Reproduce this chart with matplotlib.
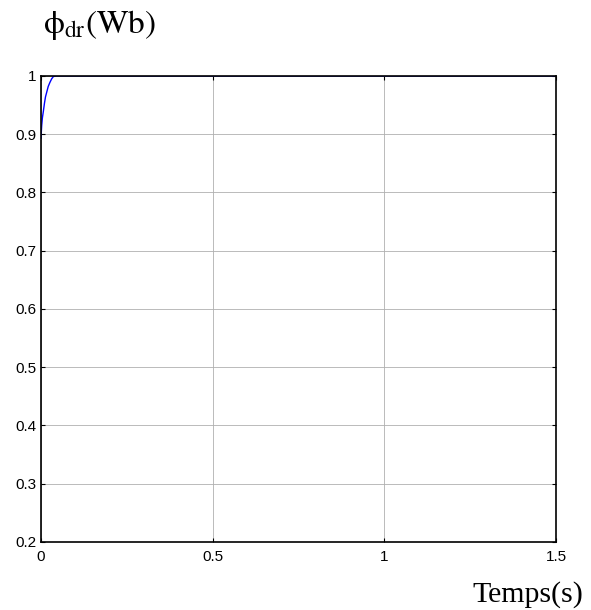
import numpy as np
import matplotlib.pyplot as plt

# flux response
t = [0.0, 0.001, 0.002, 0.004, 0.007, 0.010, 0.013, 0.017, 0.021, 0.026, 0.031, 0.036, 0.045, 0.06, 0.1, 0.5, 1.0, 1.5]
phi_dr = [0.893, 0.905, 0.915, 0.928, 0.940, 0.953, 0.964, 0.973, 0.982, 0.989, 0.995, 0.999, 1.0, 1.0, 1.0, 1.0, 1.0, 1.0]

xticks = [0, 0.5, 1, 1.5]
xtick_labels = ['0', '0.5', '1', '1.5']
yticks = [0.2, 0.3, 0.4, 0.5, 0.6, 0.7, 0.8, 0.9, 1.0]
ytick_labels = ['0.2', '0.3', '0.4', '0.5', '0.6', '0.7', '0.8', '0.9', '1']

plt.rcParams['mathtext.fontset'] = 'stix'

fig = plt.figure(figsize=(5.91, 6.10), dpi=100)
ax = fig.add_axes([0.0694, 0.1115, 0.8714, 0.764])
ax.plot(t, phi_dr, '-', color='#0000ff', lw=1)
ax.set_xlim(0, 1.5)
ax.set_ylim(0.2, 1.0)
ax.set_xticks(xticks)
ax.set_xticklabels(xtick_labels, family='Liberation Sans', fontsize=11)
ax.set_yticks(yticks)
ax.set_yticklabels(ytick_labels, family='Liberation Sans', fontsize=11)
ax.tick_params(direction='in', length=3, width=0.8, top=True, right=True)
ax.tick_params(axis='x', pad=6)
ax.tick_params(axis='y', pad=3.5)
ax.grid(True, color='#b0b0b0', lw=0.6, ls='-')
for s in ax.spines.values():
    s.set_linewidth(1.2)

fig.text(0.0728, 0.946, r'$\mathrm{\phi_{dr}(Wb)}$', fontsize=24, ha='left', va='baseline')
fig.text(0.987, 0.013, 'Temps(s)', family='Liberation Serif', fontsize=21.5, ha='right', va='baseline')

fig.savefig('out.png', dpi=100)
